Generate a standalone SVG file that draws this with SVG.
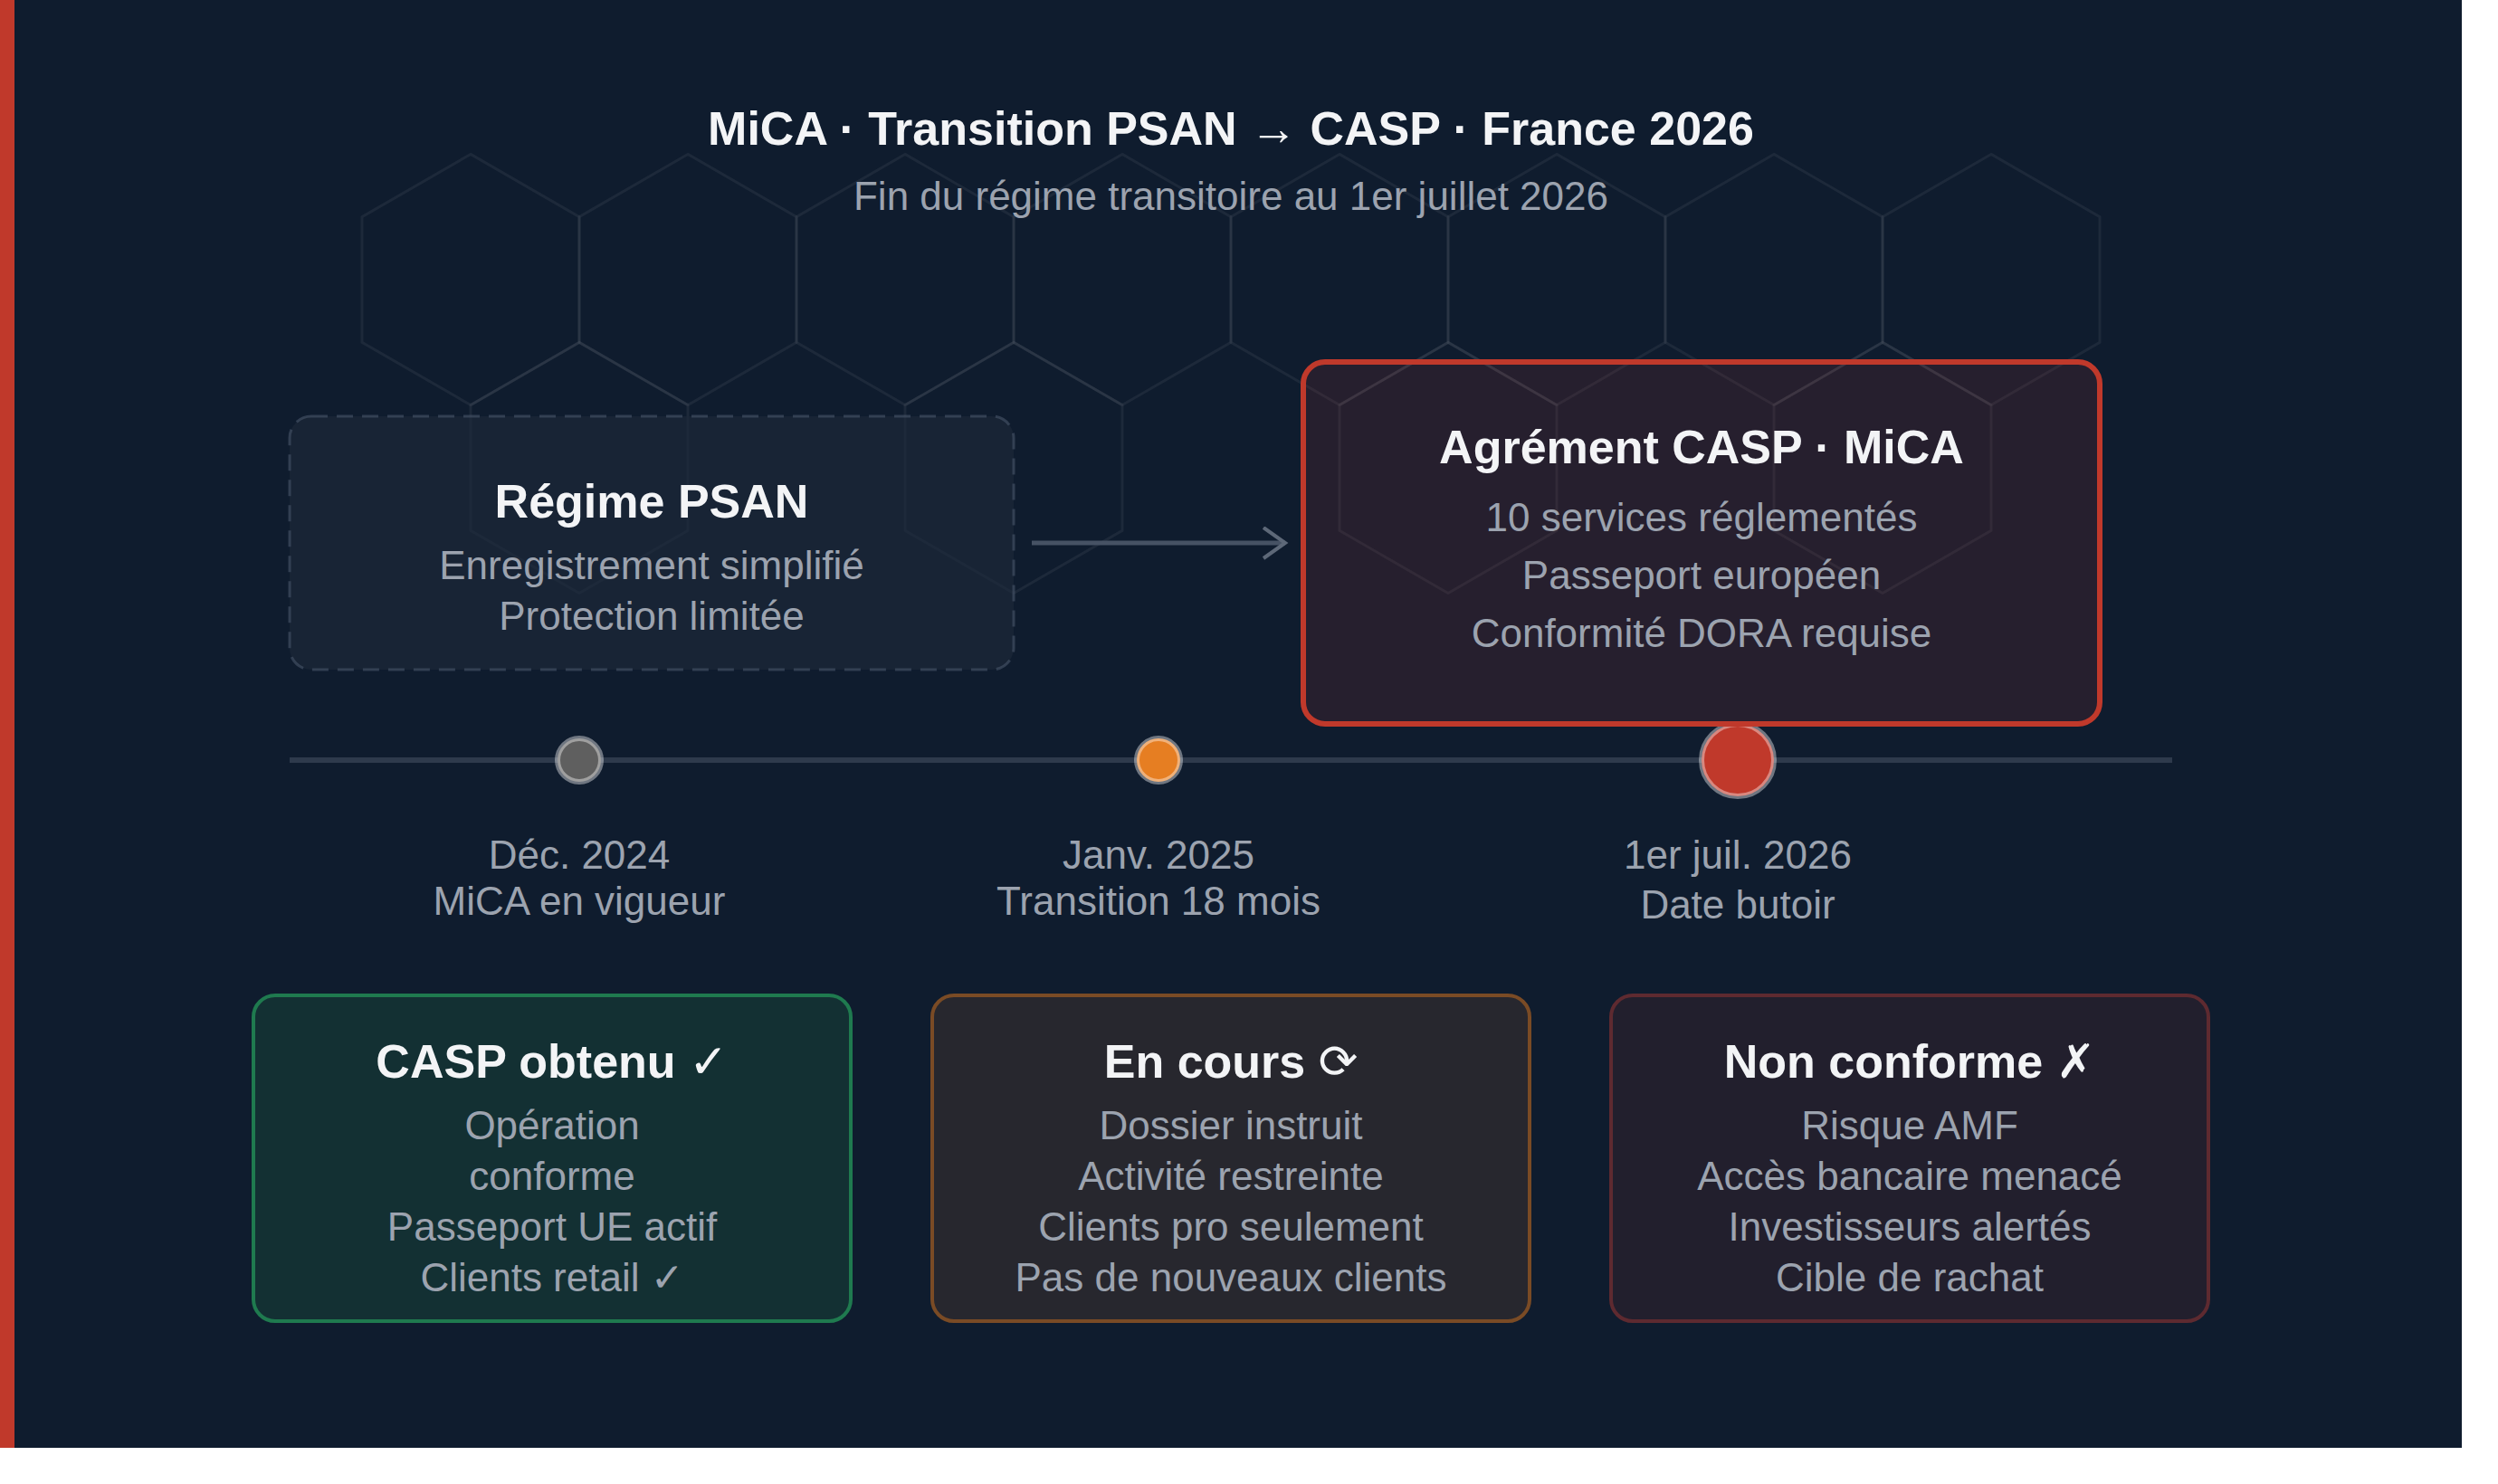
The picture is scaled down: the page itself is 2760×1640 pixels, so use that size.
<svg xmlns="http://www.w3.org/2000/svg" width="2760" height="1640" viewBox="0 0 2760 1640">
  <defs>
    <style>
      .title { font-family: "Liberation Sans", Arial, sans-serif; font-weight: bold; font-size: 52px; fill: #f3f4f6; text-anchor: middle; }
      .body { font-family: "Liberation Sans", Arial, sans-serif; font-size: 44px; fill: #9ca3af; text-anchor: middle; }
      .sym { font-family: "DejaVu Sans", sans-serif; font-weight: normal; }
      .hex { fill: none; stroke: #ffffff; stroke-opacity: 0.06; stroke-width: 3; }
      .dot { stroke: #ffffff; stroke-opacity: 0.4; stroke-width: 6; }
    </style>
    <marker id="chev" markerUnits="userSpaceOnUse" markerWidth="40" markerHeight="40" refX="26" refY="18" orient="auto">
      <polyline points="2,1 26,18 2,35" fill="none" stroke="#5d6878" stroke-width="4"/>
    </marker>
    <polygon id="hx" points="0,-138.6 120,-69.3 120,69.3 0,138.6 -120,69.3 -120,-69.3"/>
  </defs>

  <rect x="0" y="0" width="2760" height="1640" fill="#ffffff"/>
  <rect x="0" y="0" width="2720" height="1600" fill="#0f1c2e"/>
  <rect x="0" y="0" width="16" height="1600" fill="#c0392b"/>

  <g id="hexagons">
    <use href="#hx" class="hex" x="520" y="309"/>
    <use href="#hx" class="hex" x="760" y="309"/>
    <use href="#hx" class="hex" x="1000" y="309"/>
    <use href="#hx" class="hex" x="1240" y="309"/>
    <use href="#hx" class="hex" x="1480" y="309"/>
    <use href="#hx" class="hex" x="1720" y="309"/>
    <use href="#hx" class="hex" x="1960" y="309"/>
    <use href="#hx" class="hex" x="2200" y="309"/>
    <use href="#hx" class="hex" x="640" y="517"/>
    <use href="#hx" class="hex" x="1120" y="517"/>
    <use href="#hx" class="hex" x="1600" y="517"/>
    <use href="#hx" class="hex" x="2080" y="517"/>
  </g>

  <g id="header">
    <text class="title" x="1360" y="160">MiCA · Transition PSAN → CASP · France 2026</text>
    <text class="body" x="1360" y="232">Fin du régime transitoire au 1er juillet 2026</text>
  </g>

  <g id="timeline">
    <line x1="320" y1="840" x2="2400" y2="840" stroke="#2e3a4c" stroke-width="6"/>
    <g id="t-dec2024">
      <circle class="dot" cx="640" cy="840" r="24" fill="#5f5f5f"/>
      <text class="body" x="640" y="960">Déc. 2024</text>
      <text class="body" x="640" y="1011">MiCA en vigueur</text>
    </g>
    <g id="t-jan2025">
      <circle class="dot" cx="1280" cy="840" r="24" fill="#e67e22"/>
      <text class="body" x="1280" y="960">Janv. 2025</text>
      <text class="body" x="1280" y="1011">Transition 18 mois</text>
    </g>
    <g id="t-jul2026">
      <circle class="dot" cx="1920" cy="840" r="40" fill="#c0392b"/>
      <text class="body" x="1920" y="960">1er juil. 2026</text>
      <text class="body" x="1920" y="1015">Date butoir</text>
    </g>
  </g>

  <g id="connectors">
    <line x1="1140" y1="600" x2="1420" y2="600" stroke="#465264" stroke-width="5" marker-end="url(#chev)"/>
  </g>

  <g id="psan">
    <rect x="320" y="460" width="800" height="280" rx="24" fill="#1e293b" fill-opacity="0.6" stroke="#475569" stroke-opacity="0.6" stroke-width="3" stroke-dasharray="18 10"/>
    <text class="title" x="720" y="572">Régime PSAN</text>
    <text class="body" x="720" y="640">Enregistrement simplifié</text>
    <text class="body" x="720" y="696">Protection limitée</text>
  </g>

  <g id="casp">
    <rect x="1440" y="400" width="880" height="400" rx="24" fill="#c0392b" fill-opacity="0.13" stroke="#c0392b" stroke-width="6"/>
    <text class="title" x="1880" y="512">Agrément CASP · MiCA</text>
    <text class="body" x="1880" y="587">10 services réglementés</text>
    <text class="body" x="1880" y="651">Passeport européen</text>
    <text class="body" x="1880" y="715">Conformité DORA requise</text>
  </g>

  <g id="obtenu">
    <rect x="280" y="1100" width="660" height="360" rx="24" fill="#133033" stroke="#1f7a4f" stroke-width="4"/>
    <text class="title" x="610" y="1191">CASP obtenu <tspan class="sym">✓</tspan></text>
    <text class="body" x="610" y="1259">Opération</text>
    <text class="body" x="610" y="1315">conforme</text>
    <text class="body" x="610" y="1371">Passeport UE actif</text>
    <text class="body" x="610" y="1427">Clients retail <tspan class="sym">✓</tspan></text>
  </g>

  <g id="encours">
    <rect x="1030" y="1100" width="660" height="360" rx="24" fill="#27272e" stroke="#7a4b25" stroke-width="4"/>
    <text class="title" x="1360" y="1191">En cours <tspan class="sym">⟳</tspan></text>
    <text class="body" x="1360" y="1259">Dossier instruit</text>
    <text class="body" x="1360" y="1315">Activité restreinte</text>
    <text class="body" x="1360" y="1371">Clients pro seulement</text>
    <text class="body" x="1360" y="1427">Pas de nouveaux clients</text>
  </g>

  <g id="nonconforme">
    <rect x="1780" y="1100" width="660" height="360" rx="24" fill="#221f2d" stroke="#5e2a30" stroke-width="4"/>
    <text class="title" x="2110" y="1191">Non conforme <tspan class="sym">✗</tspan></text>
    <text class="body" x="2110" y="1259">Risque AMF</text>
    <text class="body" x="2110" y="1315">Accès bancaire menacé</text>
    <text class="body" x="2110" y="1371">Investisseurs alertés</text>
    <text class="body" x="2110" y="1427">Cible de rachat</text>
  </g>
</svg>
